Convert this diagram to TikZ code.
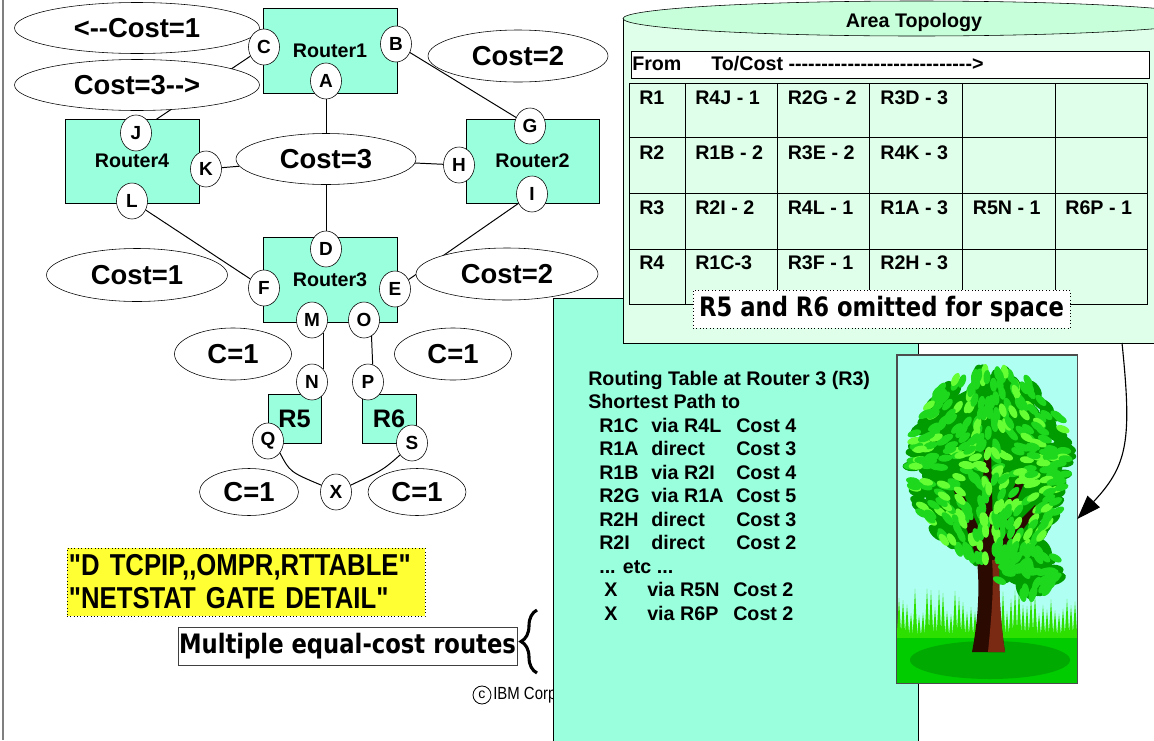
\documentclass[tikz,border=0pt]{standalone}
\usepackage{fontspec}
\newfontfamily\sansfam{Liberation Sans}
\newfontfamily\narrowfam[FakeStretch=0.85]{Liberation Sans}
\newfontfamily\handfam[FakeStretch=0.85]{DejaVu Sans}
\usetikzlibrary{shapes.geometric,arrows.meta,decorations.pathreplacing,backgrounds}

\definecolor{routergreen}{HTML}{99FFDD}
\definecolor{dbbody}{HTML}{E0FFEA}
\definecolor{dbtop}{HTML}{C6FFDA}
\definecolor{notefill}{HTML}{FFFF33}
\definecolor{skyblue}{HTML}{AFFFF2}
\definecolor{grassgreen}{HTML}{2EE000}
\definecolor{groundgreen}{HTML}{00CC00}
\definecolor{shadegreen}{HTML}{00AA00}
\definecolor{barkdark}{HTML}{2B0A02}
\definecolor{barkred}{HTML}{7A2A12}
\definecolor{leafdark}{HTML}{009C00}
\definecolor{leafmid}{HTML}{1ED81E}
\definecolor{leaflight}{HTML}{66FF33}
\definecolor{framegray}{HTML}{7F7F7F}

% hyphen that never merges into a dash
\newcommand\hy{-\kern0pt}
\newcommand\dashes{\foreach\n in {1,...,28}{-\kern0pt}}

\begin{document}
\begin{tikzpicture}[
    x=0.25mm, y=-0.25mm,
    line width=0.7pt,
    % routers, interfaces, link costs
    router/.style={rectangle, draw, fill=routergreen, inner sep=0pt, font=\sansfam\bfseries\fontsize{14}{16}\selectfont},
    port/.style={ellipse, draw, fill=white, minimum width=7.75mm, minimum height=9mm, inner sep=0pt, font=\sansfam\bfseries\fontsize{13.5}{15}\selectfont},
    cost/.style={ellipse, draw, fill=white, inner sep=0pt, font=\sansfam\bfseries\fontsize{19.5}{22}\selectfont},
    link/.style={draw, line width=0.7pt},
    % text in the database and in the routing table
    cell/.style={anchor=base west, inner sep=0pt, font=\sansfam\bfseries\fontsize{14}{16}\selectfont},
    route/.style={anchor=base west, inner sep=0pt, font=\sansfam\bfseries\fontsize{14}{16}\selectfont},
    hand/.style={inner sep=0pt, font=\handfam\bfseries\fontsize{19}{22}\selectfont},
    ptr/.style={-{Triangle[length=6mm,width=4.2mm]}, line width=0.8pt},
]

\useasboundingbox (0,0) rectangle (1154,740);
\begin{pgfonlayer}{background}
  \fill[white] (0,0) rectangle (1154,740);
\end{pgfonlayer}
\clip (0,0) rectangle (1154,740);

\draw[framegray, line width=1.2pt] (3,0) -- (3,740);

% -------------------------
% Link costs
% -------------------------
\node[cost, minimum width=61.25mm, minimum height=12.75mm] (costL1) at (137,28) {<\hy-Cost=1};
\node[cost, minimum width=61.25mm, minimum height=12.75mm] (costL3) at (137,85) {Cost=3\hy->};
\node[cost, minimum width=45mm, minimum height=13mm] (costT2) at (518,56) {Cost=2};
\node[cost, minimum width=45mm, minimum height=12.75mm] (cost3) at (326,159) {Cost=3};
\node[cost, minimum width=45.25mm, minimum height=13.25mm] (costM1) at (137,275) {Cost=1};
\node[cost, minimum width=45.5mm, minimum height=13mm] (costM2) at (507,274) {Cost=2};
\node[cost, minimum width=29.25mm, minimum height=13mm] (c5up) at (233,354) {C=1};
\node[cost, minimum width=29.25mm, minimum height=13mm] (c6up) at (453,354) {C=1};
\node[cost, minimum width=24.75mm, minimum height=11.75mm] (c5dn) at (249,492) {C=1};
\node[cost, minimum width=24.5mm, minimum height=11.75mm] (c6dn) at (417,492) {C=1};

% -------------------------
% Routers
% -------------------------
\node[router, minimum width=33.5mm, minimum height=21.25mm] (R1) at (330,50.5) {Router1};
\node[router, minimum width=33.5mm, minimum height=21mm] (R4) at (132,161) {Router4};
\node[router, minimum width=33.25mm, minimum height=21mm] (R2) at (532.5,161) {Router2};
\node[router, minimum width=33.5mm, minimum height=21.25mm] (R3) at (330,279.5) {Router3};
\node[router, minimum width=13.25mm, minimum height=12.25mm, font=\sansfam\bfseries\fontsize{18}{20}\selectfont] (R5) at (294.5,418.5) {R5};
\node[router, minimum width=13.5mm, minimum height=12.25mm, font=\sansfam\bfseries\fontsize{18}{20}\selectfont] (R6) at (389,418.5) {R6};

% interfaces
\foreach \p/\x/\y in {A/326/81, B/396/44, C/264/47, D/326/249, E/395/289, F/264/288,
                      G/530/126, H/459/165, I/532/194, J/136/133, K/206/169, L/132/201,
                      M/312/320, N/312/382, O/364/320, P/368/382, Q/268/441, S/412/443, X/336/492}{
  \node[port] (\p) at (\x,\y) {\p};
}

% -------------------------
% Links (kept under everything)
% -------------------------
\begin{pgfonlayer}{background}
  \draw[link] (A) -- (cost3);
  \draw[link] (cost3) -- (D);
  \draw[link] (K) -- (cost3);
  \draw[link] (cost3) -- (H);
  \draw[link] (B) -- (G);
  \draw[link] (C) -- (J);
  \draw[link] (L) -- (F);
  \draw[link] (I) -- (E);
  \draw[link] (M.-50) -- (N.50);
  \draw[link] (O.-65) -- (P.75);
  \draw[link] (Q.-45) .. controls (290,472) .. (X.155);
  \draw[link] (S.-135) .. controls (383,470) .. (X.25);
\end{pgfonlayer}

% -------------------------
% Commands and notes
% -------------------------
\node[draw, dotted, fill=notefill, text width=88.5mm, inner sep=0.5mm, minimum height=17mm, align=left,
      font=\narrowfam\bfseries\fontsize{21.5}{23.4}\selectfont] (cmds) at (246,582)
      {"D TCPIP,\kern0pt,OMPR,RTTABLE"\\"NETSTAT GATE DETAIL"};
\node[hand, draw=black!75, minimum width=84.75mm, minimum height=9.5mm] (multi) at (347.5,646) {Multiple equal\hy cost routes};
\coordinate (braceLo) at (537,673);
\coordinate (braceHi) at (537,610);
\draw[decorate, decoration={brace, amplitude=4mm}, line width=2.2pt] (braceLo) -- (braceHi);

\node[circle, draw, line width=0.6pt, minimum size=4.5mm, inner sep=0pt, font=\sansfam\fontsize{10}{12}\selectfont] (copyc) at (482,695) {c};
\node[anchor=west, inner sep=0pt, font=\narrowfam\fontsize{12.5}{14}\selectfont] (corp) at (493,695) {IBM Corp};

% -------------------------
% Routing table at Router3
% -------------------------
\node[draw, fill=routergreen, anchor=north west, minimum width=91.25mm, minimum height=120mm, inner sep=0pt] (rtbox) at (553,298) {};
\node[route] (rthead) at (588,385) {Routing Table at Router 3 (R3)};
\node[route] (rtsub) at (588,408.5) {Shortest Path to};
\foreach [count=\i] \dst/\via/\cst in {R1C/via R4L/Cost 4, R1A/direct/Cost 3, R1B/via R2I/Cost 4,
                                       R2G/via R1A/Cost 5, R2H/direct/Cost 3, R2I/direct/Cost 2}{
  \node[route] (dst\i) at (599,{408.5+23.5*\i}) {\dst};
  \node[route] (via\i) at (651,{408.5+23.5*\i}) {\via};
  \node[route] (cst\i) at (736,{408.5+23.5*\i}) {\cst};
}
\node[route] (etc) at (599,573) {... etc ...};
\foreach [count=\i] \via in {via R5N, via R6P}{
  \node[route] (xdst\i) at (604,{573+23.5*\i}) {X};
  \node[route] (xvia\i) at (647,{573+23.5*\i}) {\via};
  \node[route] (xcst\i) at (733,{573+23.5*\i}) {Cost 2};
}

% -------------------------
% Area topology database
% -------------------------
\fill[dbbody] (623,18) rectangle (1210,343);
\draw (623,18) -- (623,343) -- (1210,343);
\filldraw[fill=dbtop] (916.5,18.5) ellipse [x radius=293.5, y radius=17.5];
\node[anchor=base, inner sep=0pt, font=\sansfam\bfseries\fontsize{14}{16}\selectfont] (dbtitle) at (914,27) {Area Topology};
\coordinate (dbbottom) at (1122,343);

\node[draw, fill=white, anchor=north west, minimum width=129.5mm, minimum height=6.75mm, inner sep=0pt] (hdr) at (631,51) {};
\node[cell] (hdrfrom) at (632,70) {From};
\node[cell] (hdrto) at (711,70) {To/Cost \dashes>};

\draw (629,83) rectangle (1147,304);
\foreach \gx in {685,777,869,962,1055} \draw (\gx,83) -- (\gx,304);
\foreach \gy in {137,193,249} \draw (629,\gy) -- (1147,\gy);

\foreach [count=\r] \rowcells in {{R1,R4J - 1,R2G - 2,R3D - 3},
                                  {R2,R1B - 2,R3E - 2,R4K - 3},
                                  {R3,R2I - 2,R4L - 1,R1A - 3,R5N - 1,R6P - 1},
                                  {R4,R1C-3,R3F - 1,R2H - 3}}
  \foreach [count=\c] \txt in \rowcells
    \node[cell] (cell\r\c) at ({ifthenelse(\c==1,639,695+92.5*(\c-2))},{48.7+55.3*\r}) {\txt};

\node[hand, draw, dotted, fill=white, minimum width=94.25mm, minimum height=9.5mm] (omitted) at (881.5,309) {R5 and R6 omitted for space};

% -------------------------
% Tree picture
% -------------------------
\node[draw=black!70, fill=skyblue, minimum width=45mm, minimum height=82mm, inner sep=0pt] (treebox) at (987,519) {};
\begin{scope}
  \clip (897,355) rectangle (1077,683);
  \pgfmathsetseed{12}
  \foreach \gx in {899,903,...,1075}{
    \pgfmathsetmacro\gtop{588+rnd*28}
    \fill[grassgreen] (\gx-2.6,642) -- (\gx,\gtop) -- (\gx+2.6,642) -- cycle;
  }
  \fill[groundgreen] (897,638) rectangle (1077,684);
  \fill[shadegreen] (990,660) ellipse [x radius=80, y radius=19];
  % crown body and leaves at the back
  \fill[leafdark] (988,470) ellipse [x radius=66, y radius=84];
  \fill[leafdark] (1026,566) ellipse [x radius=26, y radius=20];
  \foreach \i in {1,...,320}{
    \pgfmathsetmacro\la{rnd*360}
    \pgfmathsetmacro\lr{sqrt(rnd)}
    \pgfmathsetmacro\lx{990+78*\lr*cos(\la)}
    \pgfmathsetmacro\ly{466+94*\lr*sin(\la)}
    \fill[leafdark, rotate around={\la:(\lx,\ly)}] (\lx,\ly) ellipse [x radius=10, y radius=5];
  }
  \foreach \i in {1,...,50}{
    \pgfmathsetmacro\la{rnd*360}
    \pgfmathsetmacro\lr{sqrt(rnd)}
    \pgfmathsetmacro\lx{1028+32*\lr*cos(\la)}
    \pgfmathsetmacro\ly{570+26*\lr*sin(\la)}
    \fill[leafdark, rotate around={\la:(\lx,\ly)}] (\lx,\ly) ellipse [x radius=10, y radius=5];
  }
  % trunk and branches
  \fill[barkdark] (972,652) .. controls (978,620) and (980,590) .. (977,560) -- (952,485) -- (958,482)
    -- (982,535) -- (984,450) -- (991,450) -- (993,530) -- (1022,470) -- (1028,474) -- (1000,540)
    -- (1035,505) -- (1038,510) -- (999,560) .. controls (999,590) and (1000,620) .. (1005,652) -- cycle;
  \fill[barkred] (988,652) .. controls (992,612) and (994,585) .. (992,560) -- (999,560)
    .. controls (999,590) and (1000,620) .. (1005,652) -- cycle;
  % leaves in front
  \foreach \i in {1,...,360}{
    \pgfmathsetmacro\la{rnd*360}
    \pgfmathsetmacro\lr{sqrt(rnd)}
    \pgfmathsetmacro\lx{990+80*\lr*cos(\la)}
    \pgfmathsetmacro\ly{464+96*\lr*sin(\la)}
    \pgfmathtruncatemacro\k{mod(\i,3)}
    \ifnum\k=0 \def\lc{leaflight}\else\def\lc{leafmid}\fi
    \fill[\lc, rotate around={\la:(\lx,\ly)}] (\lx,\ly) ellipse [x radius=7, y radius=3.5];
  }
  \foreach \i in {1,...,50}{
    \pgfmathsetmacro\la{rnd*360}
    \pgfmathsetmacro\lr{sqrt(rnd)}
    \pgfmathsetmacro\lx{1028+32*\lr*cos(\la)}
    \pgfmathsetmacro\ly{570+26*\lr*sin(\la)}
    \fill[leafmid, rotate around={\la:(\lx,\ly)}] (\lx,\ly) ellipse [x radius=7, y radius=3.5];
  }
\end{scope}
\draw[draw=black!70] (treebox.south west) rectangle (treebox.north east);

\draw[ptr] (dbbottom) .. controls (1132,440) and (1128,465) .. (treebox.east);

\end{tikzpicture}
\end{document}
